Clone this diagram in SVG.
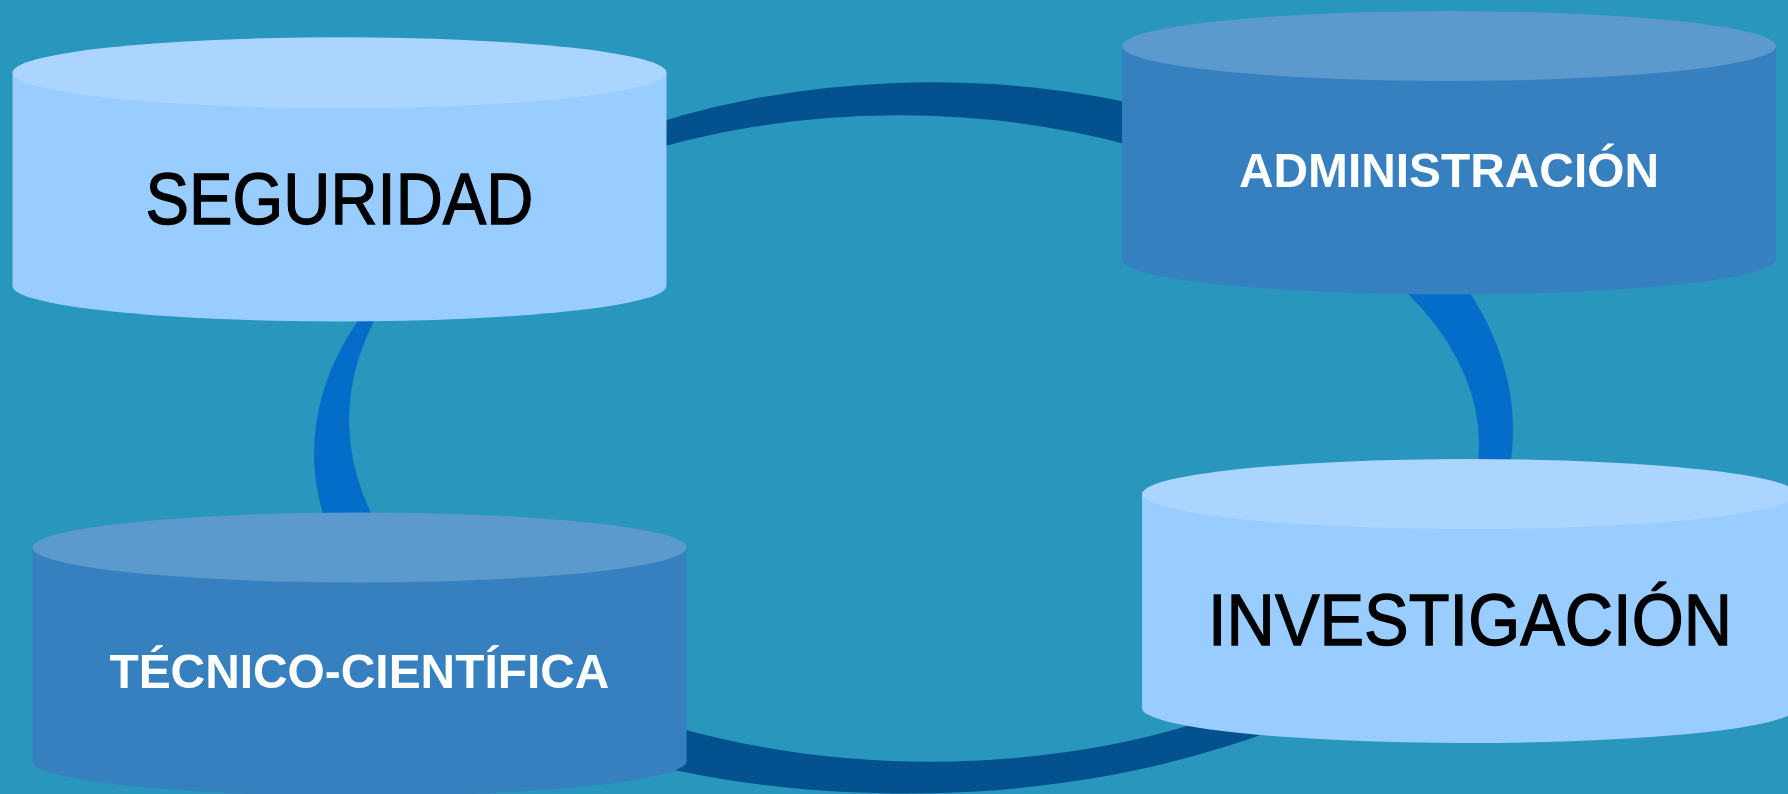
<svg xmlns="http://www.w3.org/2000/svg" width="1788" height="794" viewBox="0 0 1788 794">
  <style>
    .arc-dark { fill: #03518F; }
    .arc-bright { fill: #036DC9; }
    .light .body { fill: #99CCFF; }
    .light .top { fill: #ABD5FF; }
    .dark .body { fill: #3680C0; }
    .dark .top { fill: #5C9ACD; }
    .lbl-big { font-family: "Liberation Sans Narrow", "Arial Narrow", "Liberation Sans", Arial, sans-serif; font-size: 73px; fill: #000000; stroke: #000000; stroke-width: 1.3px; text-anchor: middle; }
    .lbl-bold { font-family: "Liberation Sans", Arial, sans-serif; font-size: 48.5px; font-weight: bold; fill: #FFFFFF; text-anchor: middle; }
  </style>
  <rect x="0" y="0" width="1788" height="794" fill="#2896BD"/>

  <g id="connectors">
    <path id="arc-top" class="arc-dark" d="M 620 135.4 A 595 357.7 0 0 1 1170 112.2 L 1170 157.2 A 552 325 0 0 0 620 159.9 Z"/>
    <path id="arc-right" class="arc-bright" d="M 1436.8 250 A 586 365 0 0 1 1494.9 520 L 1462.4 520 A 552 308 0 0 0 1354.3 250 Z"/>
    <path id="arc-bottom" class="arc-dark" d="M 1300 719.4 A 646 355.6 0 0 1 640 762.3 L 640 715.7 A 564 323 0 0 0 1300 682.5 Z"/>
    <path id="arc-left" class="arc-bright" d="M 342.4 560 A 613 356 0 0 1 382 290 L 393 290 A 578 340 0 0 0 400.3 560 Z"/>
  </g>

  <g id="node-seguridad" class="light">
    <path class="body" d="M 12.5 72.7 V 286 A 327 35.5 0 0 0 666.5 286 V 72.7 Z"/>
    <ellipse class="top" cx="339.5" cy="72.7" rx="327" ry="35.5"/>
    <text class="lbl-big" x="339.5" y="224" textLength="388" lengthAdjust="spacingAndGlyphs">SEGURIDAD</text>
  </g>

  <g id="node-administracion" class="dark">
    <path class="body" d="M 1122 46 V 259.5 A 327 35 0 0 0 1776 259.5 V 46 Z"/>
    <ellipse class="top" cx="1449" cy="46" rx="327" ry="35"/>
    <text class="lbl-bold" x="1449" y="187.3" textLength="420" lengthAdjust="spacingAndGlyphs">ADMINISTRACIÓN</text>
  </g>

  <g id="node-tecnico-cientifica" class="dark">
    <path class="body" d="M 32.6 547.5 V 761 A 327 35 0 0 0 686.6 761 V 547.5 Z"/>
    <ellipse class="top" cx="359.6" cy="547.5" rx="327" ry="35"/>
    <text class="lbl-bold" x="359.4" y="687.7" textLength="500" lengthAdjust="spacingAndGlyphs">TÉCNICO-CIENTÍFICA</text>
  </g>

  <g id="node-investigacion" class="light">
    <path class="body" d="M 1142 494 V 708 A 327 35 0 0 0 1796 708 V 494 Z"/>
    <ellipse class="top" cx="1469" cy="494" rx="327" ry="35"/>
    <text class="lbl-big" x="1470" y="645" textLength="524" lengthAdjust="spacingAndGlyphs">INVESTIGACIÓN</text>
  </g>
</svg>
